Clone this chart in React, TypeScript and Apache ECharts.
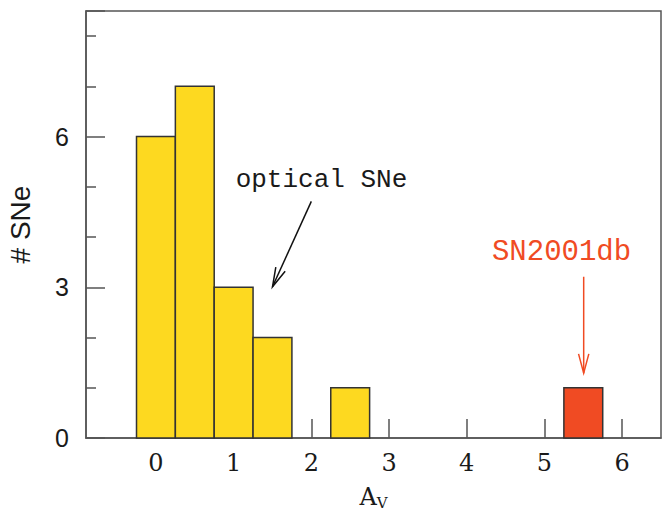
import { useEffect, useRef } from "react";
import * as echarts from "echarts";

// ---- data ----
const binWidth = 0.5;
const opticalBinStarts = [-0.25, 0.25, 0.75, 1.25, 2.25];
const opticalCounts = [6, 7, 3, 2, 1];
const sn2001dbBinStarts = [5.25];
const sn2001dbCounts = [1];
const xTickValues = [0, 1, 2, 3, 4, 5, 6];
const yTickValues = [0, 3, 6];
const xAxisMin = -0.9;
const xAxisMax = 6.5;
const yAxisMax = 8.5;

// annotation anchors in data coordinates
const opticalLabel = { text: "optical SNe", x: 2.13, y: 5.14 };
const opticalArrow = { from: [2.0, 4.71], to: [1.5, 3.01] };
const snLabel = { text: "SN2001db", x: 5.22, y: 3.69 };
const snArrow = { from: [5.505, 3.21], to: [5.505, 1.29] };

const YELLOW = "#FDD920";
const RED = "#F04B23";
const AXIS = "#555";
const TEXT = "#1a1a1a";

function binData(starts: number[], counts: number[]) {
  return starts.map((s, i) => [s, s + binWidth, counts[i]]);
}

function renderBin(color: string) {
  return (_params: any, api: any) => {
    const lo = api.value(0);
    const hi = api.value(1);
    const n = api.value(2);
    const p0 = api.coord([lo, n]);
    const p1 = api.coord([hi, 0]);
    return {
      type: "rect",
      shape: { x: p0[0], y: p0[1], width: p1[0] - p0[0], height: p1[1] - p0[1] },
      style: { fill: color, stroke: "#333", lineWidth: 1.5 },
    };
  };
}

function arrowHead(from: number[], to: number[], len: number, half: number) {
  const th = Math.atan2(to[1] - from[1], to[0] - from[0]);
  return [
    [to[0] - len * Math.cos(th - half), to[1] - len * Math.sin(th - half)],
    [to[0], to[1]],
    [to[0] - len * Math.cos(th + half), to[1] - len * Math.sin(th + half)],
  ];
}

export default function App() {
  const ref = useRef<HTMLDivElement>(null);
  useEffect(() => {
    if (!ref.current) return;
    const chart = echarts.init(ref.current, undefined, { renderer: "svg" });
    chart.setOption({
      animation: false,
      backgroundColor: "#fff",
      grid: {
        left: 86,
        right: 9,
        top: 11,
        bottom: 76,
        containLabel: false,
        outerBoundsMode: "none",
        show: true,
        borderColor: AXIS,
        borderWidth: 1.5,
        backgroundColor: "transparent",
      },
      xAxis: {
        type: "value",
        min: xAxisMin,
        max: xAxisMax,
        minInterval: 1,
        maxInterval: 1,
        splitLine: { show: false },
        axisLine: { show: true, onZero: false, lineStyle: { color: AXIS, width: 1.5 } },
        axisTick: { show: true, inside: true, length: 19, lineStyle: { color: AXIS, width: 1.5 } },
        axisLabel: {
          showMinLabel: false,
          showMaxLabel: false,
          margin: 13,
          fontFamily: "DejaVu Serif",
          fontSize: 24,
          color: TEXT,
          formatter: (v: number) => (xTickValues.includes(v) ? String(v) : ""),
        },
        name: "{a|A}{v|V}",
        nameLocation: "middle",
        nameGap: 45,
        nameTextStyle: {
          rich: {
            a: { fontFamily: "DejaVu Serif", fontSize: 24, color: TEXT },
            v: { fontFamily: "DejaVu Serif", fontSize: 15, color: TEXT, padding: [12, 0, 0, 0] },
          },
        },
      },
      yAxis: {
        type: "value",
        min: 0,
        max: yAxisMax,
        interval: 3,
        splitLine: { show: false },
        axisLine: { show: true, onZero: false, lineStyle: { color: AXIS, width: 1.5 } },
        axisTick: { show: true, inside: true, length: 19, lineStyle: { color: AXIS, width: 1.5 } },
        minorTick: { show: true, splitNumber: 3, length: 10, lineStyle: { color: AXIS, width: 1.5 } },
        axisLabel: {
          margin: 17,
          fontFamily: "Liberation Sans",
          fontSize: 25,
          color: TEXT,
          formatter: (v: number) => (yTickValues.includes(v) ? String(v) : ""),
        },
        name: "# SNe",
        nameLocation: "middle",
        nameGap: 52,
        nameRotate: 90,
        nameTextStyle: { fontFamily: "Liberation Sans", fontSize: 28, color: TEXT },
      },
      series: [
        {
          type: "custom",
          name: "optical SNe",
          renderItem: renderBin(YELLOW),
          encode: { x: [0, 1], y: 2 },
          data: binData(opticalBinStarts, opticalCounts),
          z: 3,
        },
        {
          type: "custom",
          name: "SN2001db",
          renderItem: renderBin(RED),
          encode: { x: [0, 1], y: 2 },
          data: binData(sn2001dbBinStarts, sn2001dbCounts),
          z: 3,
        },
      ],
    });

    const px = (p: number[]) => chart.convertToPixel({ gridIndex: 0 }, p) as number[];
    const oa0 = px(opticalArrow.from);
    const oa1 = px(opticalArrow.to);
    const sa0 = px(snArrow.from);
    const sa1 = px(snArrow.to);
    const ol = px([opticalLabel.x, opticalLabel.y]);
    const sl = px([snLabel.x, snLabel.y]);

    chart.setOption({
      graphic: [
        {
          type: "text",
          x: ol[0],
          y: ol[1],
          style: {
            text: opticalLabel.text,
            fontFamily: "Liberation Mono",
            fontSize: 26,
            fill: TEXT,
            align: "center",
            verticalAlign: "middle",
          },
          z: 10,
        },
        {
          type: "line",
          shape: { x1: oa0[0], y1: oa0[1], x2: oa1[0], y2: oa1[1] },
          style: { stroke: "#111", lineWidth: 1.5 },
          z: 10,
        },
        {
          type: "polyline",
          shape: { points: arrowHead(oa0, oa1, 20, 0.26) },
          style: { stroke: "#111", lineWidth: 1.5, fill: "none" },
          z: 10,
        },
        {
          type: "text",
          x: sl[0],
          y: sl[1],
          style: {
            text: snLabel.text,
            fontFamily: "Liberation Mono",
            fontSize: 29,
            fill: RED,
            align: "center",
            verticalAlign: "middle",
          },
          z: 10,
        },
        {
          type: "line",
          shape: { x1: sa0[0], y1: sa0[1], x2: sa1[0], y2: sa1[1] },
          style: { stroke: RED, lineWidth: 1.5 },
          z: 10,
        },
        {
          type: "polyline",
          shape: { points: arrowHead(sa0, sa1, 20, 0.26) },
          style: { stroke: RED, lineWidth: 1.5, fill: "none" },
          z: 10,
        },
      ],
    });

    return () => chart.dispose();
  }, []);
  return (
    <div
      ref={ref}
      style={{ position: "fixed", left: 0, top: 0, width: 670, height: 514, background: "#fff" }}
    />
  );
}
